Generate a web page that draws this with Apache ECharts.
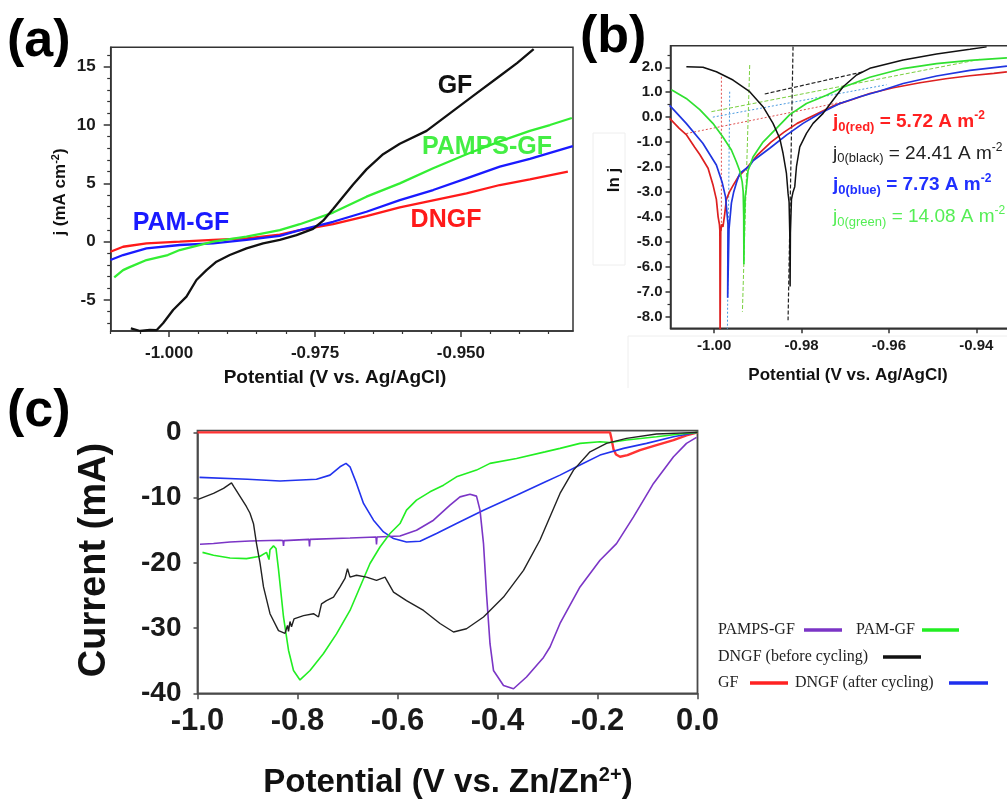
<!DOCTYPE html>
<html><head><meta charset="utf-8">
<script src="https://cdn.jsdelivr.net/npm/echarts@6/dist/echarts.min.js"></script>
<style>html,body{margin:0;padding:0;background:#fff}#c{width:1007px;height:799px}</style>
</head><body><div id="c"></div>
<script>
// ================= Panel (a) =================
const aXTicks = [-1.000, -0.975, -0.950];
const aXMinor = [-1.010, -1.005, -0.995, -0.990, -0.985, -0.980, -0.970, -0.965, -0.960, -0.955, -0.945, -0.940, -0.935];
const aYTicks = [-5, 0, 5, 10, 15];
const aYMinor = [-7, -6, -4, -3, -2, -1, 1, 2, 3, 4, 6, 7, 8, 9, 11, 12, 13, 14, 16];
const aGF = [[-1.00655,-7.42],[-1.00495,-7.65],[-1.00331,-7.55],[-1.00211,-7.57],[-1.00103,-6.99],[-0.99931,-5.85],[-0.99702,-4.71],[-0.99531,-3.28],[-0.99359,-2.43],[-0.99188,-1.71],[-0.98960,-1.14],[-0.98674,-0.57],[-0.98389,-0.14],[-0.98103,0.15],[-0.97817,0.57],[-0.97533,1.1],[-0.97361,1.8],[-0.97190,2.8],[-0.97019,3.86],[-0.96847,4.9],[-0.96618,6.2],[-0.96333,7.5],[-0.96047,8.4],[-0.95589,9.5],[-0.95190,11.0],[-0.94791,12.5],[-0.94334,14.2],[-0.94039,15.3],[-0.93754,16.5]];
const aPAMPS = [[-1.00939,-3.05],[-1.00788,-2.43],[-1.00685,-2.2],[-1.00387,-1.57],[-1.00022,-1.14],[-0.99817,-0.71],[-0.99246,0.0],[-0.98674,0.43],[-0.98103,1.0],[-0.97760,1.5],[-0.97190,2.5],[-0.96618,3.86],[-0.96047,5.0],[-0.95476,6.3],[-0.94904,7.5],[-0.94334,8.6],[-0.93819,9.5],[-0.93476,10.0],[-0.93100,10.6]];
const aPAM = [[-1.01004,-1.57],[-1.00788,-1.14],[-1.00387,-0.57],[-0.99817,-0.28],[-0.99246,-0.14],[-0.98674,0.15],[-0.98103,0.5],[-0.97760,1.0],[-0.97190,1.71],[-0.96618,2.57],[-0.96047,3.57],[-0.95476,4.43],[-0.94904,5.43],[-0.94334,6.43],[-0.93819,7.1],[-0.93083,8.2]];
const aDNGF = [[-1.01004,-0.86],[-1.00788,-0.43],[-1.00387,-0.14],[-0.99817,0.0],[-0.99246,0.15],[-0.98674,0.29],[-0.98103,0.6],[-0.97760,1.0],[-0.97190,1.5],[-0.96618,2.2],[-0.96047,2.95],[-0.95476,3.55],[-0.94904,4.14],[-0.94334,4.86],[-0.93819,5.35],[-0.93168,6.0]];

// ================= Panel (b) =================
const bXTicks = [-1.00, -0.98, -0.96, -0.94];
const bYTicks = [2, 1, 0, -1, -2, -3, -4, -5, -6, -7, -8];
const bYMinor = [2.5, 1.5, 0.5, -0.5, -1.5, -2.5, -3.5, -4.5, -5.5, -6.5, -7.5];
const bRed = [[-1.0102,-0.05],[-1.0098,-0.12],[-1.0080,-0.45],[-1.0064,-0.7],[-1.0045,-1.2],[-1.0033,-1.5],[-1.0014,-2.05],[-1.0003,-2.7],[-0.9995,-3.3],[-0.9991,-4.0],[-0.9988,-4.3],[-0.9987,-4.55],[-0.99865,-8.6],[-0.9985,-4.6],[-0.9983,-4.3],[-0.9980,-4.4],[-0.9976,-3.9],[-0.9972,-3.3],[-0.9965,-3.0],[-0.9957,-2.75],[-0.9945,-2.4],[-0.9926,-2.05],[-0.9900,-1.5],[-0.9870,-1.0],[-0.9840,-0.6],[-0.9810,-0.25],[-0.9775,0.05],[-0.9728,0.45],[-0.9682,0.72],[-0.9644,0.95],[-0.9590,1.18],[-0.9529,1.38],[-0.9470,1.54],[-0.9415,1.66],[-0.9360,1.76],[-0.9330,1.82]];
const bBlue = [[-1.0102,0.47],[-1.0098,0.49],[-1.0064,-0.25],[-1.0026,-1.05],[-0.9995,-1.92],[-0.9982,-2.6],[-0.9974,-3.2],[-0.99684,-4.3],[-0.99691,-7.25],[-0.99661,-4.5],[-0.99606,-3.45],[-0.99553,-3.0],[-0.99485,-2.6],[-0.99416,-2.26],[-0.99187,-1.95],[-0.99111,-1.75],[-0.98729,-1.25],[-0.98346,-0.72],[-0.97966,-0.25],[-0.97583,0.15],[-0.97125,0.55],[-0.96667,0.82],[-0.96208,1.05],[-0.95675,1.35],[-0.94910,1.65],[-0.94147,1.88],[-0.93299,2.05]];
const bGreen = [[-1.0098,1.1],[-1.0064,0.75],[-1.0033,0.3],[-1.0003,-0.25],[-0.9980,-0.8],[-0.99606,-1.32],[-0.99491,-1.8],[-0.99416,-2.15],[-0.99359,-2.6],[-0.99336,-3.0],[-0.99324,-4.0],[-0.9932,-5.9],[-0.9931,-4.2],[-0.9929,-3.2],[-0.99267,-2.9],[-0.99226,-2.15],[-0.99111,-1.6],[-0.98882,-1.0],[-0.98575,-0.45],[-0.98270,0.1],[-0.97888,0.55],[-0.97430,0.88],[-0.97049,1.2],[-0.96438,1.6],[-0.95675,1.95],[-0.94910,2.15],[-0.94147,2.28],[-0.93299,2.38]];
const bBlack = [[-1.00637,2.02],[-1.00257,2.0],[-0.99950,1.82],[-0.99569,1.49],[-0.99187,1.02],[-0.98882,0.42],[-0.98653,-0.25],[-0.98499,-0.85],[-0.98424,-1.45],[-0.98346,-2.26],[-0.98309,-3.06],[-0.98286,-3.4],[-0.98270,-4.66],[-0.98262,-6.8],[-0.98255,-4.66],[-0.98231,-3.3],[-0.98195,-3.0],[-0.98156,-2.79],[-0.98117,-1.99],[-0.98041,-1.19],[-0.97888,-0.65],[-0.97737,-0.25],[-0.97507,0.15],[-0.97278,0.69],[-0.97049,1.22],[-0.96742,1.69],[-0.96438,1.96],[-0.95675,2.29],[-0.94910,2.53],[-0.94147,2.72],[-0.93764,2.82]];
const bRedFit = [[-1.0064,-0.66],[-0.9700,0.63]];
const bRedVert = [[-0.99835,1.62],[-0.99835,-4.6]];
const bBlueFit = [[-1.0003,0.0],[-0.96055,1.3]];
const bBlueVert = [[-0.99645,1.02],[-0.99698,-8.6]];
const bGreenFit = [[-1.00064,0.22],[-0.93918,2.32]];
const bGreenVert = [[-0.99187,2.09],[-0.99354,-7.81]];
const bBlackFit = [[-0.98843,0.93],[-0.96591,1.82]];
const bBlackVert = [[-0.98195,2.83],[-0.98309,-8.15]];
const bNotes = [
  {name: 'red', val: '5.72', color: '#ff2020', bold: true},
  {name: 'black', val: '24.41', color: '#222222', bold: false},
  {name: 'blue', val: '7.73', color: '#2030ff', bold: true},
  {name: 'green', val: '14.08', color: '#55ee55', bold: false}
];

// ================= Panel (c) =================
const cXTicks = [-1.0, -0.8, -0.6, -0.4, -0.2, 0.0];
const cYTicks = [-40, -30, -20, -10, 0];
const cGF = [[-1.0,0],[-0.6,0],[-0.175,0],[-0.172,-1.0],[-0.168,-2.6],[-0.163,-3.4],[-0.155,-3.74],[-0.14,-3.5],[-0.115,-2.72],[-0.082,-1.95],[-0.048,-1.18],[-0.022,-0.45],[0,0]];
const cPAM = [[-0.99,-18.4],[-0.968,-18.85],[-0.935,-19.26],[-0.902,-19.36],[-0.875,-19.0],[-0.862,-18.4],[-0.858,-18.2],[-0.857,-19.5],[-0.855,-18.0],[-0.848,-17.4],[-0.843,-17.8],[-0.838,-21],[-0.835,-23.2],[-0.828,-28.3],[-0.818,-33.4],[-0.808,-36.5],[-0.795,-37.95],[-0.775,-36.5],[-0.748,-33.9],[-0.722,-30.9],[-0.695,-27.3],[-0.675,-23.7],[-0.655,-20.1],[-0.635,-17.57],[-0.615,-15.5],[-0.595,-13.98],[-0.582,-11.93],[-0.562,-10.4],[-0.535,-9.12],[-0.508,-8.1],[-0.482,-6.82],[-0.442,-5.79],[-0.415,-4.76],[-0.362,-4.0],[-0.305,-3.0],[-0.275,-2.46],[-0.235,-1.69],[-0.195,-1.44],[-0.175,-1.55],[-0.142,-1.18],[-0.082,-0.67],[-0.035,-0.26],[0,0]];
const cDNGFbefore = [[-1.0,-10.3],[-0.968,-9.37],[-0.948,-8.6],[-0.932,-7.74],[-0.927,-8.36],[-0.902,-11.4],[-0.895,-12.4],[-0.888,-14.0],[-0.882,-17.05],[-0.875,-20.0],[-0.868,-23.7],[-0.855,-27.8],[-0.838,-30.4],[-0.825,-30.8],[-0.82,-29.6],[-0.818,-30.5],[-0.815,-29.0],[-0.812,-29.8],[-0.807,-28.6],[-0.788,-28.1],[-0.768,-27.8],[-0.758,-28.3],[-0.752,-26.3],[-0.742,-25.8],[-0.728,-25.25],[-0.715,-23.7],[-0.705,-22.4],[-0.7,-20.9],[-0.695,-22.2],[-0.682,-21.9],[-0.662,-22.2],[-0.642,-22.7],[-0.625,-22.2],[-0.608,-24.5],[-0.582,-25.8],[-0.548,-27.3],[-0.515,-29.3],[-0.488,-30.6],[-0.462,-30.1],[-0.428,-28.3],[-0.388,-25.25],[-0.348,-21.15],[-0.315,-16.5],[-0.275,-9.37],[-0.248,-5.79],[-0.215,-2.98],[-0.182,-1.69],[-0.142,-0.92],[-0.082,-0.26],[0,0]];
const cDNGFafter = [[-0.996,-6.9],[-0.9,-7.2],[-0.835,-7.45],[-0.762,-7.2],[-0.735,-6.56],[-0.715,-5.28],[-0.703,-4.76],[-0.695,-5.28],[-0.682,-7.83],[-0.668,-10.9],[-0.648,-13.47],[-0.628,-15.27],[-0.608,-16.28],[-0.582,-16.8],[-0.555,-16.7],[-0.522,-15.5],[-0.482,-13.98],[-0.428,-11.93],[-0.362,-9.63],[-0.305,-7.6],[-0.275,-6.56],[-0.235,-5.02],[-0.195,-3.49],[-0.148,-2.46],[-0.102,-1.69],[-0.048,-0.67],[0,0]];
const cPAMPS = [[-0.995,-17.16],[-0.968,-17.05],[-0.935,-16.8],[-0.895,-16.65],[-0.835,-16.55],[-0.829,-16.6],[-0.828,-17.4],[-0.827,-16.6],[-0.777,-16.4],[-0.776,-17.5],[-0.775,-16.4],[-0.695,-16.2],[-0.643,-16.05],[-0.642,-17.2],[-0.641,-16.05],[-0.595,-15.9],[-0.562,-15.0],[-0.528,-13.47],[-0.495,-11.17],[-0.475,-9.89],[-0.455,-9.48],[-0.442,-9.78],[-0.435,-11.93],[-0.428,-17.05],[-0.422,-24.7],[-0.415,-32.4],[-0.408,-36.5],[-0.388,-38.8],[-0.368,-39.3],[-0.342,-37.5],[-0.308,-34.5],[-0.295,-32.9],[-0.275,-29.3],[-0.235,-23.7],[-0.195,-19.6],[-0.162,-17.05],[-0.128,-12.96],[-0.088,-7.83],[-0.048,-3.75],[-0.022,-1.69],[-0.002,-0.77]];

// ================= Build =================
const FONT = '"Liberation Sans", Arial, Helvetica, sans-serif';
const SERIF = '"Liberation Serif", "Times New Roman", serif';
const AX = '#333';

function mainAxis(grid, pos, min, max, ticks, fmt, fs, margin, tl, color) {
  return {
    type: 'value', gridIndex: grid, position: pos, min: min, max: max,
    axisLine: {show: true, onZero: false, lineStyle: {color: color || AX, width: 1.5}},
    axisTick: {show: true, inside: false, customValues: ticks, length: tl, lineStyle: {color: color || AX, width: 1.5}},
    axisLabel: {show: true, customValues: ticks, formatter: fmt, fontSize: fs, fontWeight: 'bold', color: '#1a1a1a', fontFamily: FONT, margin: margin},
    splitLine: {show: false}
  };
}
function minorAxis(grid, pos, min, max, ticks, tl) {
  return {
    type: 'value', gridIndex: grid, position: pos, min: min, max: max,
    axisLine: {show: false, onZero: false},
    axisTick: {show: true, inside: false, customValues: ticks, length: tl, lineStyle: {color: AX, width: 1.2}},
    axisLabel: {show: false}, splitLine: {show: false}
  };
}
const f0 = v => (Math.abs(v) < 1e-9 ? '0' : String(Math.round(v)));
const f1 = v => (Math.abs(v) < 1e-9 ? '0.0' : v.toFixed(1));
const f2 = v => v.toFixed(2);
const f3 = v => v.toFixed(3);

function ln(xi, yi, data, color, width, type, z) {
  return {type: 'line', xAxisIndex: xi, yAxisIndex: yi, data: data, showSymbol: false, symbol: 'none',
    lineStyle: {color: color, width: width, type: type || 'solid'}, z: z || 2, animation: false, silent: true, clip: true};
}

function txt(x, y, text, size, color, extra) {
  return Object.assign({type: 'text', x: x, y: y, silent: true,
    style: {text: text, fontSize: size, fontWeight: 'bold', fontFamily: FONT, fill: color || '#111',
      align: 'center', verticalAlign: 'middle', textAlign: 'center', textVerticalAlign: 'middle'}}, extra || {});
}
function letter(x, y, t) {
  return {type: 'text', x: x, y: y, silent: true, style: {text: t, fontSize: 52, fontWeight: 'bold', fontFamily: FONT, fill: '#000', align: 'left', verticalAlign: 'middle'}};
}

const graphics = [];
// faint frame artifacts around (b) texts
graphics.push({type: 'rect', silent: true, shape: {x: 593, y: 133, width: 32, height: 132}, style: {fill: 'none', stroke: '#eeeeee', lineWidth: 1}});
graphics.push({type: 'polyline', silent: true, shape: {points: [[628, 388], [628, 336], [1007, 336]]}, style: {fill: 'none', stroke: '#eeeeee', lineWidth: 1}});
// panel letters
graphics.push(letter(7, 42, '(a)'));
graphics.push(letter(580, 38, '(b)'));
graphics.push(letter(7, 412, '(c)'));
// (a) in-plot labels
graphics.push(txt(455, 86, 'GF', 25, '#111'));
graphics.push(txt(487, 147, 'PAMPS-GF', 25, '#44ee44'));
graphics.push(txt(181, 223, 'PAM-GF', 25, '#1a1aff'));
graphics.push(txt(446, 220, 'DNGF', 25, '#ff1a1a'));
// (a) axis titles
graphics.push(txt(335, 378, 'Potential (V vs. Ag/AgCl)', 19, '#111'));
graphics.push({type: 'text', x: 60, y: 192, rotation: Math.PI / 2, silent: true,
  style: {text: '{m|j (mA cm}{p|-2}{m|)}', align: 'center', verticalAlign: 'middle',
    rich: {m: {fontSize: 17, fontWeight: 'bold', fontFamily: FONT, fill: '#111', lineHeight: 20},
           p: {fontSize: 11, fontWeight: 'bold', fontFamily: FONT, fill: '#111', lineHeight: 11, verticalAlign: 'top'}}}});
// (b) axis titles
graphics.push(txt(848, 375, 'Potential (V vs. Ag/AgCl)', 17, '#111'));
graphics.push(txt(614, 180, 'ln j', 17, '#111', {rotation: Math.PI / 2}));
// (b) notes
bNotes.forEach((n, i) => {
  const w = n.bold ? 'bold' : 'normal';
  graphics.push({type: 'text', x: 833, y: 121.7 + i * 31.7, silent: true,
    style: {text: '{m|j}{s|0(' + n.name + ')}{m| = ' + n.val + ' A m}{p|-2}', align: 'left', verticalAlign: 'middle',
      rich: {m: {fontSize: 19, fontWeight: w, fontFamily: FONT, fill: n.color, lineHeight: 24},
             s: {fontSize: 13, fontWeight: w, fontFamily: FONT, fill: n.color, lineHeight: 13, verticalAlign: 'bottom'},
             p: {fontSize: 12, fontWeight: w, fontFamily: FONT, fill: n.color, lineHeight: 12, verticalAlign: 'top'}}}});
});
// (c) axis titles
graphics.push({type: 'text', x: 448, y: 783, silent: true,
  style: {text: '{m|Potential (V vs. Zn/Zn}{p|2+}{m|)}', align: 'center', verticalAlign: 'middle',
    rich: {m: {fontSize: 33, fontWeight: 'bold', fontFamily: FONT, fill: '#111', lineHeight: 36},
           p: {fontSize: 20, fontWeight: 'bold', fontFamily: FONT, fill: '#111', lineHeight: 20, verticalAlign: 'top'}}}});
graphics.push(txt(95, 560, 'Current (mA)', 38, '#111', {rotation: Math.PI / 2}));
// (c) legend
const legRows = [
  [{t: 'PAMPS-GF', x: 718, y: 630}, {l: '#7b35c6', x1: 804, x2: 842, y: 630}, {t: 'PAM-GF', x: 856, y: 630}, {l: '#22ee22', x1: 922, x2: 959, y: 630}],
  [{t: 'DNGF (before cycling)', x: 718, y: 657}, {l: '#111111', x1: 883, x2: 921, y: 657}],
  [{t: 'GF', x: 718, y: 683}, {l: '#ff2222', x1: 750, x2: 788, y: 683}, {t: 'DNGF (after cycling)', x: 795, y: 683}, {l: '#1f2fee', x1: 949, x2: 988, y: 683}]
];
legRows.forEach(row => row.forEach(it => {
  if (it.t) graphics.push({type: 'text', x: it.x, y: it.y, silent: true,
    style: {text: it.t, fontSize: 16, fontFamily: SERIF, fill: '#222', align: 'left', verticalAlign: 'middle'}});
  else graphics.push({type: 'rect', silent: true, shape: {x: it.x1, y: it.y - 1.7, width: it.x2 - it.x1, height: 3.4}, style: {fill: it.l}});
}));

const option = {
  animation: false,
  backgroundColor: '#ffffff',
  grid: [
    {left: 110.7, top: 47.3, width: 462.3, height: 283.7, show: true, borderColor: AX, borderWidth: 1.5, backgroundColor: 'transparent', containLabel: false, outerBoundsMode: 'none'},
    {left: 670.5, top: 45.7, width: 349.5, height: 282.6, show: true, borderColor: AX, borderWidth: 1.5, backgroundColor: 'transparent', containLabel: false, outerBoundsMode: 'none'},
    {left: 197.5, top: 430.7, width: 500, height: 262.6, show: true, borderColor: '#4a4a4a', borderWidth: 1.8, backgroundColor: 'transparent', containLabel: false, outerBoundsMode: 'none'}
  ],
  xAxis: [
    mainAxis(0, 'bottom', -1.010, -0.9308, aXTicks, f3, 17, 14, 6),
    minorAxis(0, 'bottom', -1.010, -0.9308, aXMinor, 3),
    mainAxis(1, 'bottom', -1.010, -0.930, bXTicks, f2, 15, 10, 5),
    mainAxis(2, 'bottom', -1.0, 0.0, cXTicks, f1, 31, 13, 6, '#4a4a4a')
  ],
  yAxis: [
    mainAxis(0, 'left', -7.65, 16.66, aYTicks, f0, 17, 15, 7),
    minorAxis(0, 'left', -7.65, 16.66, aYMinor, 3.5),
    mainAxis(1, 'left', -8.474, 2.867, bYTicks, f1, 15, 8, 5),
    minorAxis(1, 'left', -8.474, 2.867, bYMinor, 3),
    mainAxis(2, 'left', -40, 0.25, cYTicks, f0, 28, 16, 4, '#4a4a4a')
  ],
  series: [
    ln(0, 0, aDNGF, '#ff1a1a', 2.3),
    ln(0, 0, aPAM, '#1a1aff', 2.3),
    ln(0, 0, aPAMPS, '#33ee33', 2.3),
    ln(0, 0, aGF, '#111111', 2.3, 'solid', 3),

    ln(2, 2, bRedFit, '#e05050', 1, [2, 2]),
    ln(2, 2, bRedVert, '#e05050', 1, [2, 2]),
    ln(2, 2, bBlueFit, '#4a9ae0', 1, [2, 2]),
    ln(2, 2, bBlueVert, '#4a9ae0', 1, [2, 2]),
    ln(2, 2, bGreenFit, '#7ad040', 1, [4, 2]),
    ln(2, 2, bGreenVert, '#7ad040', 1, [4, 2]),
    ln(2, 2, bBlackFit, '#222222', 1.2, [4, 2]),
    ln(2, 2, bBlackVert, '#222222', 1.2, [4, 2]),
    ln(2, 2, bRed, '#dd2020', 1.7, 'solid', 3),
    ln(2, 2, bBlue, '#2035e0', 1.7, 'solid', 3),
    ln(2, 2, bGreen, '#30e030', 1.7, 'solid', 3),
    ln(2, 2, bBlack, '#111111', 1.5, 'solid', 3),

    ln(3, 4, cGF, '#ff3333', 2.4),
    ln(3, 4, cDNGFafter, '#2233ee', 1.6),
    ln(3, 4, cPAMPS, '#7b35c6', 1.6),
    ln(3, 4, cPAM, '#22ee22', 1.6),
    ln(3, 4, cDNGFbefore, '#222222', 1.4)
  ],
  graphic: {elements: graphics}
};
const chart = echarts.init(document.getElementById('c'), null, {renderer: 'canvas'});
chart.setOption(option);
</script>
</body></html>
